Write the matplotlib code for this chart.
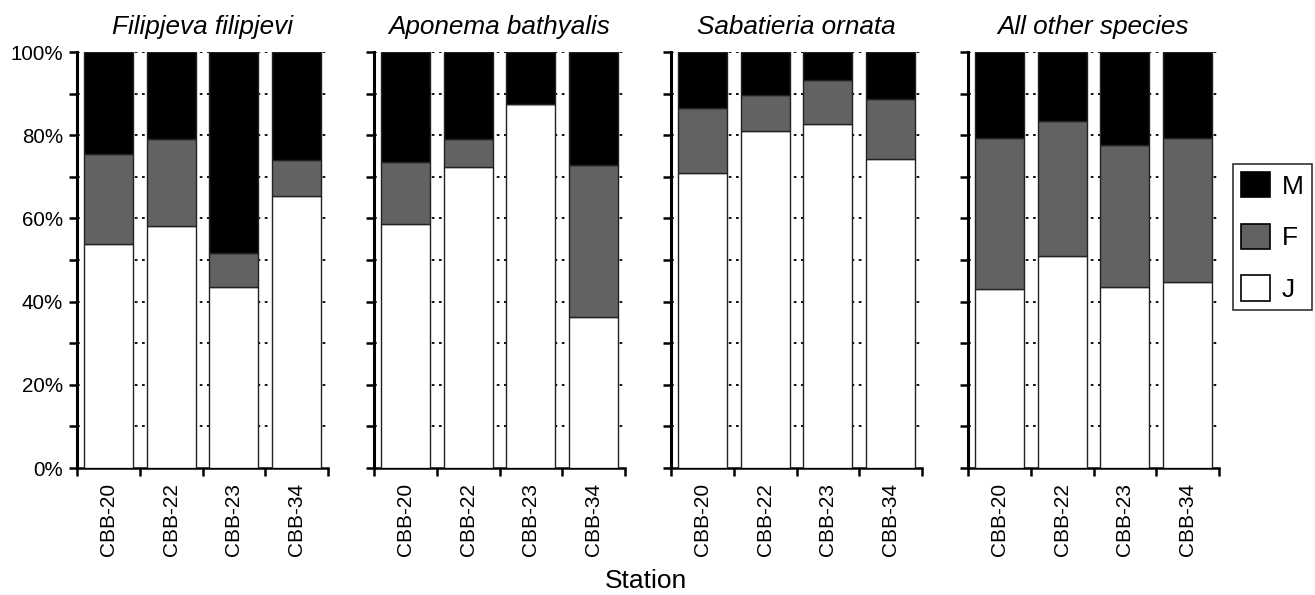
import matplotlib
matplotlib.use("Agg")
import matplotlib.pyplot as plt
from matplotlib.patches import Patch
import numpy as np

plt.rcParams['font.family'] = ['Liberation Sans', 'DejaVu Sans']

species = ["Filipjeva filipjevi", "Aponema bathyalis", "Sabatieria ornata", "All other species"]
stations = ["CBB-20", "CBB-22", "CBB-23", "CBB-34"]

# Stage shares (percent)
juvenile = [
    [53.8, 58.2, 43.4, 65.4],
    [58.7, 72.4, 87.4, 36.4],
    [71.0, 80.9, 82.6, 74.2],
    [43.0, 51.0, 43.5, 44.8],
]
female = [
    [21.7, 20.8, 8.4, 8.6],
    [14.9, 6.6, 0.0, 36.4],
    [15.5, 8.8, 10.6, 14.6],
    [36.4, 32.5, 34.1, 34.6],
]
male = [
    [24.5, 21.0, 48.2, 26.0],
    [26.4, 21.0, 12.6, 27.2],
    [13.5, 10.3, 6.8, 11.2],
    [20.6, 16.5, 22.4, 20.6],
]

col_J = "white"
col_F = "#626262"
col_M = "black"
edge = "#222222"

fig = plt.figure(figsize=(13.15, 5.95), dpi=100)
W, H = 1315, 595
lefts = [77, 374, 671, 968]
aw = 251
bottom = (H - 468) / H
ah = 416 / H

x = np.arange(len(stations)) + 0.5
bw = 0.78
for i, sp in enumerate(species):
    ax = fig.add_axes([lefts[i] / W, bottom, aw / W, ah])
    j = np.array(juvenile[i]); f = np.array(female[i]); m = np.array(male[i])
    ax.bar(x, j, bw, color=col_J, edgecolor=edge, linewidth=1.0, zorder=3)
    ax.bar(x, f, bw, bottom=j, color=col_F, edgecolor=edge, linewidth=1.0, zorder=3)
    ax.bar(x, m, bw, bottom=j + f, color=col_M, edgecolor=edge, linewidth=1.0, zorder=3)
    for yv in range(10, 101, 10):
        ax.axhline(yv, color="black", linestyle=(0, (1.5, 2.5)), linewidth=1.3, zorder=1)
    ax.set_xlim(0, 4)
    ax.set_ylim(0, 100)
    ax.spines['top'].set_visible(False)
    ax.spines['right'].set_visible(False)
    ax.spines['left'].set_linewidth(2.2)
    ax.spines['bottom'].set_linewidth(1.8)
    ax.set_yticks(np.arange(0, 101, 20))
    ax.set_yticks(np.arange(10, 100, 20), minor=True)
    ax.tick_params(axis='y', which='both', direction='out', length=6, width=1.8, pad=4, labelsize=14.8)
    if i == 0:
        ax.set_yticklabels([f"{v}%" for v in range(0, 101, 20)])
    else:
        ax.set_yticklabels([])
    ax.set_xticks(x)
    ax.set_xticklabels(stations, rotation=90, fontsize=15)
    ax.set_xticks(np.arange(0, 5), minor=True)
    ax.tick_params(axis='x', which='major', length=0, pad=11)
    ax.tick_params(axis='x', which='minor', direction='out', length=6, width=1.8)
    ax.set_title(sp, fontstyle='italic', fontsize=18.8, pad=13)

fig.text(646 / W, 1 - 581 / H, "Station", ha='center', va='center', fontsize=19)

handles = [Patch(facecolor=col_M, edgecolor='black', linewidth=1.2, label='M'),
           Patch(facecolor=col_F, edgecolor='black', linewidth=1.2, label='F'),
           Patch(facecolor=col_J, edgecolor='black', linewidth=1.2, label='J')]
leg = fig.legend(handles=handles, loc='upper left', bbox_to_anchor=(1233 / W, 1 - 164 / H),
                 frameon=True, fancybox=False, fontsize=19, handlelength=1.1, handleheight=1.1,
                 labelspacing=0.95, borderpad=0.3, handletextpad=0.45, borderaxespad=0)
leg.get_frame().set_edgecolor('black')
leg.get_frame().set_linewidth(1.2)

fig.savefig("out.png", dpi=100)
